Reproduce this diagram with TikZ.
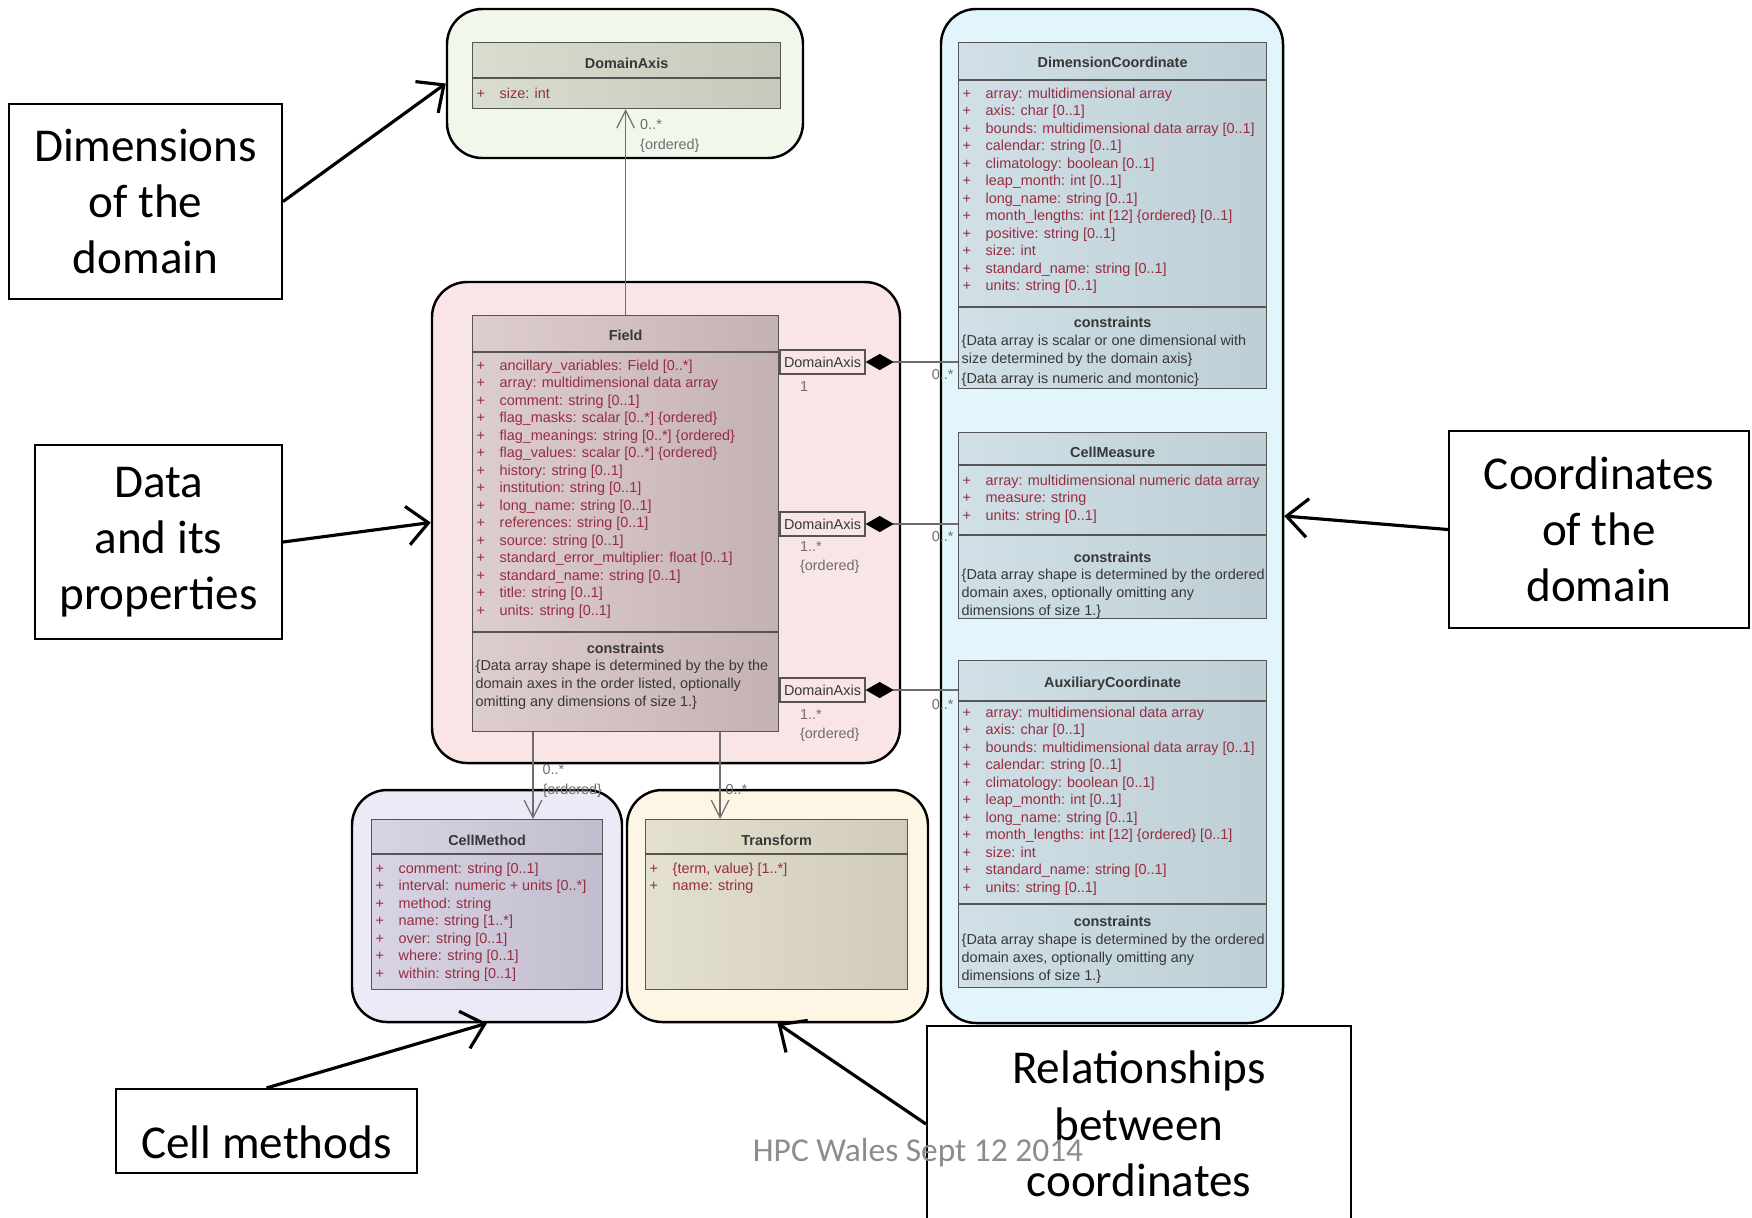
\documentclass[tikz,border=0pt]{standalone}
\usepackage{fontspec}
\setmainfont{Carlito}
\newfontfamily\umlfont{Liberation Sans}
\usetikzlibrary{positioning, arrows.meta}

\newlength{\upx}
\setlength{\upx}{0.01cm} % one pixel of the slide

\definecolor{axisbg}{RGB}{242,247,236}
\definecolor{fieldbg}{RGB}{249,229,229}
\definecolor{coordbg}{RGB}{226,245,253}
\definecolor{methodbg}{RGB}{237,233,246}
\definecolor{transbg}{RGB}{253,246,229}
\definecolor{daxL}{RGB}{216,221,208}
\definecolor{daxR}{RGB}{197,202,189}
\definecolor{fieldL}{RGB}{222,205,207}
\definecolor{fieldR}{RGB}{196,177,179}
\definecolor{coordL}{RGB}{208,224,230}
\definecolor{coordR}{RGB}{189,206,213}
\definecolor{methodL}{RGB}{216,212,228}
\definecolor{methodR}{RGB}{193,189,206}
\definecolor{transL}{RGB}{228,224,206}
\definecolor{transR}{RGB}{209,204,185}
\definecolor{umlline}{RGB}{85,85,85}
\definecolor{umltext}{RGB}{55,55,55}
\definecolor{umlred}{RGB}{150,45,65}
\definecolor{umlgray}{RGB}{110,110,110}
\definecolor{footgray}{RGB}{140,140,140}

\newcommand{\attr}[1]{\makebox[23\upx][l]{+}#1}

\tikzset{
x=0.01cm, y=-0.01cm, % coordinates are slide pixels, y runs down
group/.style={draw=black, line width=0.7pt, rounded corners=10pt}, % coloured frames round the classes
callout/.style={draw=black, line width=0.6pt, fill=white, align=center, font=\fontsize{13.4pt}{16pt}\selectfont},
calloutarrow/.style={draw=black, line width=0.9pt, -{Straight Barb[length=6pt,width=11pt]}},
umlclass/.style={draw=umlline, line width=0.35pt, anchor=north west, inner sep=0pt},
umlsep/.style={draw=umlline, line width=0.35pt},
umltitle/.style={anchor=base, inner sep=0pt, text=umltext, font=\umlfont\fontsize{4.1pt}{5pt}\selectfont\bfseries},
umlattrs/.style={anchor=north west, align=left, inner sep=0pt, text=umlred, font=\umlfont\fontsize{4.1pt}{4.98pt}\selectfont},
umlnote/.style={anchor=north west, align=left, inner sep=0pt, text=umltext, font=\umlfont\fontsize{4.1pt}{5.2pt}\selectfont},
mult/.style={align=left, inner sep=0pt, text=umlgray, font=\umlfont\fontsize{4.1pt}{5.5pt}\selectfont},
qualifier/.style={draw=umlline, line width=0.35pt, fill=fieldbg, minimum width=85\upx, minimum height=24\upx, inner sep=0pt, text=umltext, font=\umlfont\fontsize{4.1pt}{5pt}\selectfont},
nav/.style={draw=umlgray, line width=0.35pt, -{Straight Barb[length=5pt,width=5pt]}},
comp/.style={draw=umlgray, line width=0.35pt, {Diamond[length=8pt,width=4.6pt,color=black]}-},
}

\begin{document}
\begin{tikzpicture}
  \useasboundingbox (0,0) rectangle (1752,1217);

  % coloured groups
  \node[group, fill=axisbg, minimum width=356\upx, minimum height=149\upx] (grpAxis) at (625,83.5) {};
  \node[group, fill=fieldbg, minimum width=468\upx, minimum height=481\upx] (grpField) at (666,522.5) {};
  \node[group, fill=coordbg, minimum width=342\upx, minimum height=1014\upx] (grpCoord) at (1112,516) {};
  \node[group, fill=methodbg, minimum width=270\upx, minimum height=232\upx] (grpMethod) at (487,906) {};
  \node[group, fill=transbg, minimum width=301\upx, minimum height=232\upx] (grpTrans) at (777.5,906) {};

  % DomainAxis
  \node[umlclass, left color=daxL, right color=daxR, minimum width=308\upx, minimum height=66\upx] (dax) at (472,42) {};
  \draw[umlsep] ([yshift=-36\upx]dax.north west) -- ([yshift=-36\upx]dax.north east);
  \node[umltitle] (daxName) at ([yshift=-26\upx]dax.north) {DomainAxis};
  \node[umlattrs] (daxAttrs) at ([xshift=4\upx, yshift=-45\upx]dax.north west) {\attr{size: int}};

  % Field
  \node[umlclass, left color=fieldL, right color=fieldR, minimum width=306\upx, minimum height=416\upx] (field) at (472,315) {};
  \draw[umlsep] ([yshift=-37\upx]field.north west) -- ([yshift=-37\upx]field.north east);
  \draw[umlsep] ([yshift=-317\upx]field.north west) -- ([yshift=-317\upx]field.north east);
  \node[umltitle] (fieldName) at ([yshift=-25\upx]field.north) {Field};
  \node[umlattrs] (fieldAttrs) at ([xshift=4\upx, yshift=-44\upx]field.north west) {%
    \attr{ancillary\_variables: Field [0..*]}\\
    \attr{array: multidimensional data array}\\
    \attr{comment: string [0..1]}\\
    \attr{flag\_masks: scalar [0..*] \{ordered\}}\\
    \attr{flag\_meanings: string [0..*] \{ordered\}}\\
    \attr{flag\_values: scalar [0..*] \{ordered\}}\\
    \attr{history: string [0..1]}\\
    \attr{institution: string [0..1]}\\
    \attr{long\_name: string [0..1]}\\
    \attr{references: string [0..1]}\\
    \attr{source: string [0..1]}\\
    \attr{standard\_error\_multiplier: float [0..1]}\\
    \attr{standard\_name: string [0..1]}\\
    \attr{title: string [0..1]}\\
    \attr{units: string [0..1]}};
  \node[umltitle] (fieldCons) at ([yshift=-338\upx]field.north) {constraints};
  \node[umlnote] (fieldNote) at ([xshift=3\upx, yshift=-344\upx]field.north west) {%
    \{Data array shape is determined by the by the\\
    domain axes in the order listed, optionally\\
    omitting any dimensions of size 1.\}};

  % qualifiers on Field
  \node[qualifier] (q1) at (822.5,362) {DomainAxis};
  \node[qualifier] (q2) at (822.5,524) {DomainAxis};
  \node[qualifier] (q3) at (822.5,690) {DomainAxis};
  \node[mult, anchor=north west] (q1m) at ([xshift=20\upx, yshift=-6\upx]q1.south west) {1};
  \node[mult, anchor=north west] (q2m) at ([xshift=20\upx, yshift=-4\upx]q2.south west) {1..*\\\{ordered\}};
  \node[mult, anchor=north west] (q3m) at ([xshift=20\upx, yshift=-6\upx]q3.south west) {1..*\\\{ordered\}};

  % DimensionCoordinate
  \node[umlclass, left color=coordL, right color=coordR, minimum width=308\upx, minimum height=346\upx] (dimc) at (958,42) {};
  \draw[umlsep] ([yshift=-38\upx]dimc.north west) -- ([yshift=-38\upx]dimc.north east);
  \draw[umlsep] ([yshift=-265\upx]dimc.north west) -- ([yshift=-265\upx]dimc.north east);
  \node[umltitle] (dimcName) at ([yshift=-25\upx]dimc.north) {DimensionCoordinate};
  \node[umlattrs] (dimcAttrs) at ([xshift=4\upx, yshift=-45\upx]dimc.north west) {%
    \attr{array: multidimensional array}\\
    \attr{axis: char [0..1]}\\
    \attr{bounds: multidimensional data array [0..1]}\\
    \attr{calendar: string [0..1]}\\
    \attr{climatology: boolean [0..1]}\\
    \attr{leap\_month: int [0..1]}\\
    \attr{long\_name: string [0..1]}\\
    \attr{month\_lengths: int [12] \{ordered\} [0..1]}\\
    \attr{positive: string [0..1]}\\
    \attr{size: int}\\
    \attr{standard\_name: string [0..1]}\\
    \attr{units: string [0..1]}};
  \node[umltitle] (dimcCons) at ([yshift=-285\upx]dimc.north) {constraints};
  \node[umlnote] (dimcNote) at ([xshift=3\upx, yshift=-292\upx]dimc.north west) {%
    \{Data array is scalar or one dimensional with\\
    size determined by the domain axis\}\\[0.6pt]
    \{Data array is numeric and montonic\}};

  % CellMeasure
  \node[umlclass, left color=coordL, right color=coordR, minimum width=308\upx, minimum height=186\upx] (cellms) at (958,432) {};
  \draw[umlsep] ([yshift=-33\upx]cellms.north west) -- ([yshift=-33\upx]cellms.north east);
  \draw[umlsep] ([yshift=-103\upx]cellms.north west) -- ([yshift=-103\upx]cellms.north east);
  \node[umltitle] (cellmsName) at ([yshift=-25\upx]cellms.north) {CellMeasure};
  \node[umlattrs] (cellmsAttrs) at ([xshift=4\upx, yshift=-42\upx]cellms.north west) {%
    \attr{array: multidimensional numeric data array}\\
    \attr{measure: string}\\
    \attr{units: string [0..1]}};
  \node[umltitle] (cellmsCons) at ([yshift=-130\upx]cellms.north) {constraints};
  \node[umlnote] (cellmsNote) at ([xshift=3\upx, yshift=-136\upx]cellms.north west) {%
    \{Data array shape is determined by the ordered\\
    domain axes, optionally omitting any\\
    dimensions of size 1.\}};

  % AuxiliaryCoordinate
  \node[umlclass, left color=coordL, right color=coordR, minimum width=308\upx, minimum height=327\upx] (auxc) at (958,660) {};
  \draw[umlsep] ([yshift=-41\upx]auxc.north west) -- ([yshift=-41\upx]auxc.north east);
  \draw[umlsep] ([yshift=-244\upx]auxc.north west) -- ([yshift=-244\upx]auxc.north east);
  \node[umltitle] (auxcName) at ([yshift=-27\upx]auxc.north) {AuxiliaryCoordinate};
  \node[umlattrs] (auxcAttrs) at ([xshift=4\upx, yshift=-46\upx]auxc.north west) {%
    \attr{array: multidimensional data array}\\
    \attr{axis: char [0..1]}\\
    \attr{bounds: multidimensional data array [0..1]}\\
    \attr{calendar: string [0..1]}\\
    \attr{climatology: boolean [0..1]}\\
    \attr{leap\_month: int [0..1]}\\
    \attr{long\_name: string [0..1]}\\
    \attr{month\_lengths: int [12] \{ordered\} [0..1]}\\
    \attr{size: int}\\
    \attr{standard\_name: string [0..1]}\\
    \attr{units: string [0..1]}};
  \node[umltitle] (auxcCons) at ([yshift=-266\upx]auxc.north) {constraints};
  \node[umlnote] (auxcNote) at ([xshift=3\upx, yshift=-273\upx]auxc.north west) {%
    \{Data array shape is determined by the ordered\\
    domain axes, optionally omitting any\\
    dimensions of size 1.\}};

  % CellMethod
  \node[umlclass, left color=methodL, right color=methodR, minimum width=231\upx, minimum height=170\upx] (cellm) at (371,819) {};
  \draw[umlsep] ([yshift=-35\upx]cellm.north west) -- ([yshift=-35\upx]cellm.north east);
  \node[umltitle] (cellmName) at ([yshift=-26\upx]cellm.north) {CellMethod};
  \node[umlattrs] (cellmAttrs) at ([xshift=4\upx, yshift=-43\upx]cellm.north west) {%
    \attr{comment: string [0..1]}\\
    \attr{interval: numeric + units [0..*]}\\
    \attr{method: string}\\
    \attr{name: string [1..*]}\\
    \attr{over: string [0..1]}\\
    \attr{where: string [0..1]}\\
    \attr{within: string [0..1]}};

  % Transform
  \node[umlclass, left color=transL, right color=transR, minimum width=262\upx, minimum height=170\upx] (trans) at (645,819) {};
  \draw[umlsep] ([yshift=-35\upx]trans.north west) -- ([yshift=-35\upx]trans.north east);
  \node[umltitle] (transName) at ([yshift=-26\upx]trans.north) {Transform};
  \node[umlattrs] (transAttrs) at ([xshift=4\upx, yshift=-43\upx]trans.north west) {%
    \attr{\{term, value\} [1..*]}\\
    \attr{name: string}};

  % associations
  \draw[nav] (field.north) -- (field.north |- dax.south)
    node[mult, pos=1, anchor=north west, xshift=14\upx, yshift=-10\upx] {0..*\\\{ordered\}};
  \draw[nav] ([xshift=61\upx]field.south west) -- ([xshift=162\upx]cellm.north west)
    node[mult, pos=0, anchor=north west, xshift=9\upx, yshift=-32\upx] {0..*\\\{ordered\}};
  \draw[nav] ([xshift=248\upx]field.south west) -- ([xshift=75\upx]trans.north west)
    node[mult, pos=0, anchor=north west, xshift=5\upx, yshift=-52\upx] {0..*};
  \draw[comp] (q1.east) -- (q1.east -| dimc.west)
    node[mult, pos=1, anchor=north east, xshift=-4\upx, yshift=-7\upx] {0..*};
  \draw[comp] (q2.east) -- (q2.east -| cellms.west)
    node[mult, pos=1, anchor=north east, xshift=-4\upx, yshift=-7\upx] {0..*};
  \draw[comp] (q3.east) -- (q3.east -| auxc.west)
    node[mult, pos=1, anchor=north east, xshift=-4\upx, yshift=-9\upx] {0..*};

  % callouts
  \node[callout, minimum width=273\upx, minimum height=195\upx] (dims) at (145.5,201.5) {Dimensions\\of the\\domain};
  \node[callout, minimum width=247\upx, minimum height=194\upx] (data) at (158.5,542) {Data\\and its\\properties};
  \node[callout, minimum width=300\upx, minimum height=197\upx] (coords) at (1599,529.5) {Coordinates\\of the\\domain};
  \node[callout, minimum width=301\upx, minimum height=84\upx, text height=15.5pt, text depth=0pt] (cellmcall) at (266.5,1131) {Cell methods};
  \node[callout, minimum width=424\upx, minimum height=196\upx] (rel) at (1139,1124) {Relationships\\between\\coordinates};

  \draw[calloutarrow] (dims.east) -- (grpAxis.west);
  \draw[calloutarrow] (data.east) -- (grpField.west);
  \draw[calloutarrow] (coords.west) -- (grpCoord.east);
  \draw[calloutarrow] (cellmcall.north) -- (grpMethod.south);
  \draw[calloutarrow] (rel.west) -- (grpTrans.south);

  \node[text=footgray, font=\fontsize{9.5pt}{11pt}\selectfont] (footer) at (918,1153) {HPC Wales Sept 12 2014};
\end{tikzpicture}
\end{document}
